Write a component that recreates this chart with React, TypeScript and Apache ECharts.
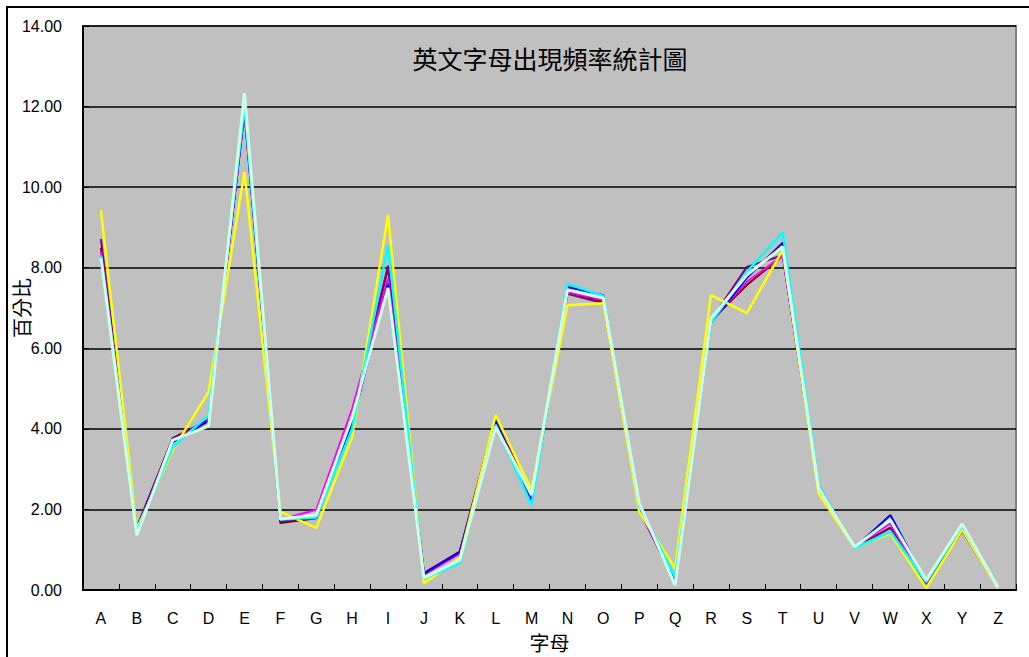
import React, { useEffect, useRef } from "react";
import * as echarts from "echarts";

// Letters on the category axis
const letters = [
  "A", "B", "C", "D", "E", "F", "G", "H", "I", "J", "K", "L", "M",
  "N", "O", "P", "Q", "R", "S", "T", "U", "V", "W", "X", "Y", "Z",
];

// Letter frequency (%) for each sample text
const sampleMaroon = [8.5, 1.55, 3.77, 4.22, 11.9, 1.66, 1.78, 4.2, 8.0, 0.42, 0.95, 4.3, 2.25, 7.4, 7.15, 1.99, 0.2, 6.68, 7.57, 8.3, 2.5, 1.05, 1.55, 0.15, 1.47, 0.07];
const samplePurple = [8.71, 1.55, 3.75, 4.22, 11.85, 1.7, 1.8, 4.3, 8.05, 0.42, 0.95, 4.25, 2.23, 7.35, 7.12, 1.99, 0.2, 6.7, 8.02, 8.31, 2.5, 1.05, 1.54, 0.15, 1.49, 0.07];
const sampleMagenta = [8.39, 1.52, 3.7, 4.2, 11.9, 1.75, 1.99, 4.5, 7.74, 0.38, 0.9, 4.2, 2.25, 7.4, 7.2, 2.0, 0.2, 6.68, 7.65, 8.3, 2.5, 1.07, 1.65, 0.17, 1.5, 0.07];
const sampleBlue = [8.2, 1.52, 3.67, 4.2, 11.9, 1.75, 1.79, 4.14, 7.6, 0.4, 0.94, 4.2, 2.2, 7.52, 7.32, 2.05, 0.25, 6.63, 7.75, 8.62, 2.6, 1.05, 1.86, 0.2, 1.5, 0.07];
const sampleYellow = [9.43, 1.52, 3.47, 4.92, 10.38, 1.94, 1.54, 3.8, 9.31, 0.17, 0.8, 4.34, 2.48, 7.07, 7.12, 1.94, 0.54, 7.32, 6.87, 8.44, 2.4, 1.05, 1.41, 0.05, 1.5, 0.05];
const sampleCyan = [8.3, 1.45, 3.55, 4.34, 12.0, 1.75, 1.8, 4.0, 8.56, 0.28, 0.67, 4.1, 2.11, 7.6, 7.3, 2.1, 0.32, 6.63, 7.9, 8.88, 2.6, 1.04, 1.45, 0.2, 1.6, 0.08];
const sampleLight = [8.24, 1.36, 3.72, 4.07, 12.33, 1.76, 1.86, 4.29, 7.5, 0.3, 0.74, 4.05, 2.36, 7.45, 7.25, 2.16, 0.12, 6.74, 7.82, 8.52, 2.53, 1.07, 1.74, 0.25, 1.64, 0.07];

const seriesList = [
  { name: "樣本1", data: sampleMaroon, color: "#800000", width: 2 },
  { name: "樣本2", data: samplePurple, color: "#800080", width: 2 },
  { name: "樣本3", data: sampleMagenta, color: "#FF00FF", width: 2 },
  { name: "樣本4", data: sampleBlue, color: "#0000FF", width: 2 },
  { name: "樣本5", data: sampleYellow, color: "#FFFF00", width: 2.5 },
  { name: "樣本6", data: sampleCyan, color: "#00FFFF", width: 2.5 },
  { name: "樣本7", data: sampleLight, color: "#CCFFE6", width: 3 },
];

const latin = "'Liberation Sans', Arial, sans-serif";
const cjk = "'Noto Sans CJK TC', 'Noto Sans CJK SC', sans-serif";

export default function App() {
  const ref = useRef<HTMLDivElement>(null);

  useEffect(() => {
    if (!ref.current) return;
    const chart = echarts.init(ref.current, null, { renderer: "svg" });
    chart.setOption({
      animation: false,
      backgroundColor: "#ffffff",
      title: {
        text: "英文字母出現頻率統計圖",
        left: 545,
        top: 40,
        textAlign: "center",
        textStyle: { fontFamily: cjk, fontSize: 25, fontWeight: "normal", color: "#000" },
      },
      graphic: [
        {
          type: "rect",
          shape: { x: 7, y: 7, width: 1040, height: 680 },
          style: { fill: "none", stroke: "#000", lineWidth: 2 },
          silent: true,
          z: 100,
        },
        {
          // y-axis title, vertical, left of the tick labels
          type: "text",
          x: 21,
          y: 308,
          rotation: Math.PI / 2,
          style: {
            text: "百分比",
            font: `20px ${cjk}`,
            fill: "#000",
            align: "center",
            verticalAlign: "middle",
          },
          z: 100,
        },
      ],
      grid: {
        left: 83,
        top: 26,
        right: 13,
        bottom: 67,
        outerBoundsMode: "none",
        containLabel: false,
        show: true,
        backgroundColor: "#C0C0C0",
        borderColor: "#808080",
        borderWidth: 2,
      },
      xAxis: {
        type: "category",
        data: letters,
        boundaryGap: true,
        name: "字母",
        nameLocation: "middle",
        nameGap: 42,
        nameTextStyle: { fontFamily: cjk, fontSize: 20, color: "#000" },
        axisLine: { lineStyle: { color: "#000", width: 2 } },
        axisTick: { show: true, inside: true, length: 6, lineStyle: { color: "#000" } },
        axisLabel: { fontFamily: latin, fontSize: 16, color: "#000", margin: 20 },
        splitLine: { show: false },
      },
      yAxis: {
        type: "value",
        min: 0,
        max: 14,
        interval: 2,
        axisLine: { show: true, lineStyle: { color: "#000", width: 2 } },
        axisTick: { show: true, inside: true, length: 6, lineStyle: { color: "#000" } },
        axisLabel: {
          fontFamily: latin,
          fontSize: 16,
          color: "#000",
          margin: 21,
          formatter: (v: number) => v.toFixed(2),
        },
        splitLine: { show: true, lineStyle: { color: "#000", width: 1.5 } },
      },
      series: seriesList.map((s) => ({
        name: s.name,
        type: "line",
        data: s.data,
        symbol: "none",
        lineStyle: { color: s.color, width: s.width },
        itemStyle: { color: s.color },
      })),
    });
    return () => chart.dispose();
  }, []);

  return (
    <div
      ref={ref}
      style={{ position: "absolute", left: 0, top: 0, width: 1029, height: 657 }}
    />
  );
}
